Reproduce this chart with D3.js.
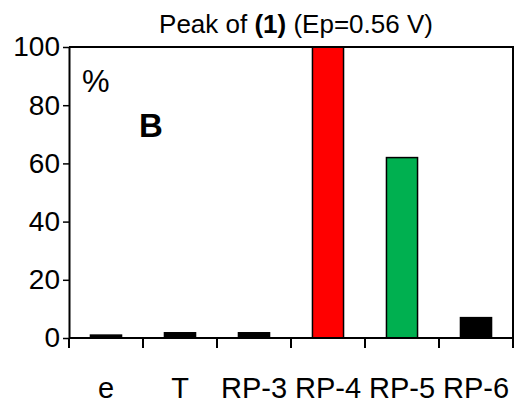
<!DOCTYPE html>
<html>
<head>
<meta charset="utf-8">
<script src="https://cdn.jsdelivr.net/npm/d3@7"></script>
<style>
  html, body { margin: 0; padding: 0; background: #fff; }
  svg { display: block; font-family: "Liberation Sans", Arial, sans-serif; }
</style>
</head>
<body>
<svg id="chart" width="529" height="405"></svg>
<script>
const categories = ["e", "T", "RP-3", "RP-4", "RP-5", "RP-6"];
const values = [1.0, 1.8, 1.8, 100, 62, 7];
const colors = ["#000000", "#000000", "#000000", "#FF0000", "#00B050", "#000000"];
const yTicks = [0, 20, 40, 60, 80, 100];

const margin = {left: 69, right: 16, top: 47, bottom: 67};
const W = 529, H = 405;
const svg = d3.select("#chart");

const x = d3.scaleBand().domain(categories).range([margin.left, W - margin.right]).paddingInner(0).paddingOuter(0);
const y = d3.scaleLinear().domain([0, 100]).range([H - margin.bottom, margin.top]);

const barW = x.bandwidth() * 0.42;

// Bars
svg.append("g").selectAll("rect").data(categories).join("rect")
  .attr("x", (d) => x(d) + (x.bandwidth() - barW) / 2)
  .attr("y", (d, i) => y(values[i]))
  .attr("width", barW)
  .attr("height", (d, i) => y(0) - y(values[i]))
  .attr("fill", (d, i) => colors[i])
  .attr("stroke", "#000")
  .attr("stroke-width", 1.5);

// Frame (top and right)
svg.append("path")
  .attr("d", `M${x.range()[0]},${y(100)}H${x.range()[1]}V${y(0)}`)
  .attr("fill", "none").attr("stroke", "#000").attr("stroke-width", 2);

// Y axis
const yAxis = svg.append("g")
  .attr("transform", `translate(${margin.left},0)`)
  .call(d3.axisLeft(y).tickValues(yTicks).tickSize(6).tickPadding(3).tickSizeOuter(0));
yAxis.select(".domain").attr("stroke-width", 2);
yAxis.selectAll(".tick line").attr("stroke-width", 1.5);
yAxis.selectAll("text").attr("font-size", 28).attr("fill", "#000")
  .attr("font-family", "Liberation Sans, Arial, sans-serif");

// X axis: line + ticks at band boundaries
const xg = svg.append("g");
xg.append("line")
  .attr("x1", x.range()[0]).attr("x2", x.range()[1])
  .attr("y1", y(0)).attr("y2", y(0))
  .attr("stroke", "#000").attr("stroke-width", 2);
const bounds = categories.map(c => x(c)).concat([x.range()[1]]);
xg.selectAll("line.tk").data(bounds).join("line").attr("class", "tk")
  .attr("x1", d => d).attr("x2", d => d)
  .attr("y1", y(0)).attr("y2", y(0) + 10)
  .attr("stroke", "#000").attr("stroke-width", 2);

// X labels
svg.append("g").selectAll("text").data(categories).join("text")
  .attr("x", d => x(d) + x.bandwidth() / 2)
  .attr("y", 398)
  .attr("text-anchor", "middle")
  .attr("font-size", 29)
  .attr("fill", "#000")
  .text(d => d);

// Title
const title = svg.append("text")
  .attr("x", (x.range()[0] + x.range()[1]) / 2 + 5)
  .attr("y", 33)
  .attr("text-anchor", "middle")
  .attr("font-size", 26)
  .attr("fill", "#000");
title.append("tspan").text("Peak of ");
title.append("tspan").attr("font-weight", "bold").text("(1)");
title.append("tspan").text(" (Ep=0.56 V)");

// Annotations
svg.append("text").attr("x", 82).attr("y", 92).attr("font-size", 31).attr("fill", "#000").text("%");
svg.append("text").attr("x", 139).attr("y", 137).attr("font-size", 33).attr("font-weight", "bold").attr("fill", "#000").text("B");
</script>
</body>
</html>
